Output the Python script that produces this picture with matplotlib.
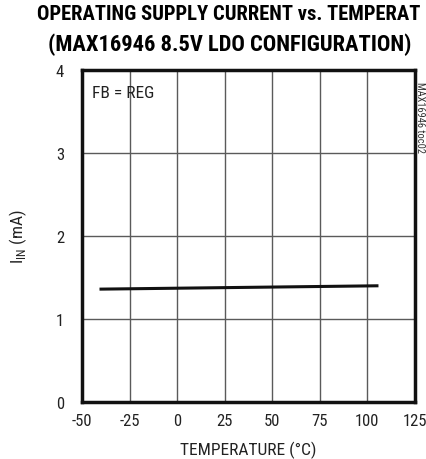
import matplotlib.pyplot as plt
from matplotlib import font_manager

names = {f.name for f in font_manager.fontManager.ttflist}
narrow = "Liberation Sans"
for cand in ["Liberation Sans Narrow", "Roboto Condensed", "DejaVu Sans Condensed",
             "Open Sans Condensed"]:
    if cand in names:
        narrow = cand
        break
plt.rcParams["font.family"] = [narrow, "DejaVu Sans"]
plt.rcParams["axes.unicode_minus"] = False

temp = [-40, 105]
iin = [1.36, 1.40]

x_ticks = [-50, -25, 0, 25, 50, 75, 100, 125]
y_ticks = [0, 1, 2, 3, 4]

fig = plt.figure(figsize=(4.26, 4.6), dpi=100)
ax = fig.add_axes([82 / 426, 57 / 460, 333 / 426, 332 / 460])

ax.plot(temp, iin, color="#111111", lw=2.2)

ax.set_xlim(-50, 125)
ax.set_ylim(0, 4)
ax.set_xticks(x_ticks)
ax.set_yticks(y_ticks)
ax.tick_params(length=0, labelsize=12, labelcolor="#222222")
ax.tick_params(axis="x", pad=8)
ax.tick_params(axis="y", pad=13)
ax.grid(True, color="#5a5a5a", lw=1.0)
for s in ax.spines.values():
    s.set_linewidth(2.5)
    s.set_color("#111111")

ax.set_xlabel("TEMPERATURE (°C)", fontsize=12.5, labelpad=9, color="#222222")
ax.set_ylabel(r"I$_{\mathregular{IN}}$ (mA)", fontsize=12.5, labelpad=19, color="#222222")

ax.text(0.03, 0.955, "FB = REG", transform=ax.transAxes, fontsize=12.5,
        va="top", ha="left", color="#222222")
fig.text(0.986, 1 - 118 / 460, "MAX16946 toc02", rotation=270, fontsize=7.5,
         color="#333333", ha="center", va="center")

t1 = fig.text(37 / 426, 1 - 15 / 460, "OPERATING SUPPLY CURRENT vs. TEMPERAT",
              fontsize=15, fontweight="black", ha="left", va="center")
t2 = fig.text(48 / 426, 1 - 45 / 460, "(MAX16946 8.5V LDO CONFIGURATION)",
              fontsize=15, fontweight="black", ha="left", va="center")

# shrink the title lines to the widths seen in the reference
fig.canvas.draw()
r = fig.canvas.get_renderer()
for t, w in [(t1, 386), (t2, 365)]:
    cur = t.get_window_extent(r).width
    t.set_fontsize(15 * w / cur)

fig.savefig("out.png", dpi=100)
